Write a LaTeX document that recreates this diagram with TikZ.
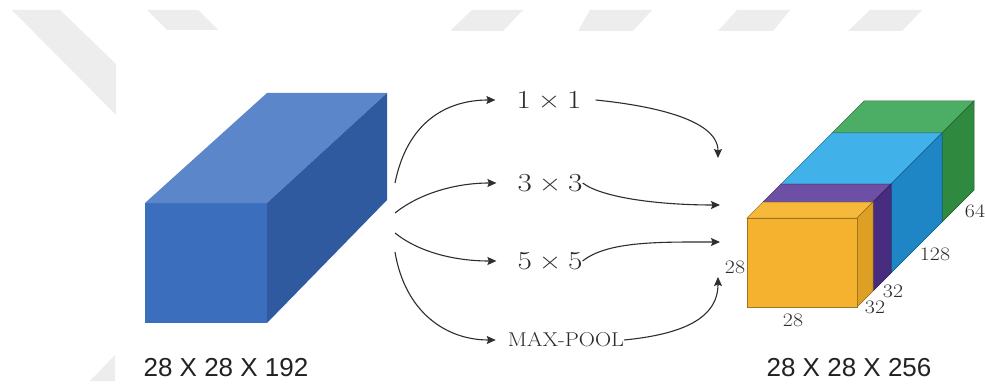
\documentclass[tikz,border=0pt]{standalone}
\usepackage{fontspec}
\usepackage{graphicx}
\newfontfamily\labelsans{Liberation Sans}
\usetikzlibrary{arrows.meta}

% palette
\definecolor{wmgray}{HTML}{EDEDED}
\definecolor{arrowgray}{HTML}{2E2E2E}
\definecolor{labelgray}{HTML}{2A2A2A}
\definecolor{sizegray}{HTML}{222222}
\definecolor{bluefront}{HTML}{3C6EBE}
\definecolor{bluetop}{HTML}{5B86C9}
\definecolor{blueside}{HTML}{2F5A9F}
\definecolor{orangefront}{HTML}{F5B22F}
\definecolor{orangetop}{HTML}{F7B93C}
\definecolor{orangeside}{HTML}{DDA025}
\definecolor{purpletop}{HTML}{6E4FA6}
\definecolor{purpleside}{HTML}{472C7F}
\definecolor{cyantop}{HTML}{41B1E9}
\definecolor{cyanside}{HTML}{1F86C6}
\definecolor{greentop}{HTML}{4BAE64}
\definecolor{greenside}{HTML}{2F8A3F}

% "a x b" kernel size, spaced like a binary operator
\newcommand\kernelsize[2]{\scalebox{1.2}[1]{#1\hspace{0.22em}×\hspace{0.22em}#2}}

\begin{document}
\begin{tikzpicture}[x=1pt,y=-1pt,
  wm/.style={fill=wmgray, draw=none},
  flow/.style={draw=arrowgray, line width=1.1pt,
    -{Stealth[length=9pt,width=8pt,inset=1.5pt]}},
  oplabel/.style={inner sep=0pt, text=labelgray,
    font=\fontsize{26}{28}\selectfont},
  poollabel/.style={inner sep=0pt, text=labelgray,
    font=\fontsize{20}{22}\selectfont},
  dimlabel/.style={inner sep=0pt, text=labelgray,
    font=\fontsize{19}{21}\selectfont},
  sizelabel/.style={inner sep=0pt, text=sizegray,
    font=\labelsans\fontsize{26}{30}\selectfont},
  face/.style={line width=0.5pt}]

% canvas
\fill[white] (0,0) rectangle (985,385);
\useasboundingbox (0,0) rectangle (985,385);

% faint background stripes
\fill[wm] (12,10) -- (60,10) -- (116,64) -- (116,115) -- cycle;
\fill[wm] (147,10) -- (198,10) -- (218,30) -- (167,30) -- cycle;
\fill[wm] (472,10) -- (523,10) -- (503,31) -- (450,31) -- cycle;
\fill[wm] (590,10) -- (652,10) -- (633,31) -- (578,31) -- cycle;
\fill[wm] (737,10) -- (790,10) -- (773,31) -- (718,31) -- cycle;
\fill[wm] (870,10) -- (922,10) -- (902,31) -- (848,31) -- cycle;
\fill[wm] (115,355) -- (115,381) -- (90,381) -- cycle;

% input volume
\fill[bluefront] (145,203) rectangle (267,323);
\fill[bluetop] (145,203) -- (267,203) -- (387,93) -- (267,93) -- cycle;
\fill[blueside] (267,203) -- (387,93) -- (387,200) -- (267,323) -- cycle;

% output volume: stacked channel blocks, back to front
\foreach \da/\db/\tc/\sc in {85/117/greentop/greenside,
                             34/85/cyantop/cyanside,
                             16/34/purpletop/purpleside,
                             0/16/orangetop/orangeside}{
  \filldraw[face, fill=\tc, draw=\tc!65!black]
    ({747+\da},{218-\da}) -- ({857+\da},{218-\da}) --
    ({857+\db},{218-\db}) -- ({747+\db},{218-\db}) -- cycle;
  \filldraw[face, fill=\sc, draw=\sc!65!black]
    ({857+\da},{218-\da}) -- ({857+\db},{218-\db}) --
    ({857+\db},{307-\db}) -- ({857+\da},{307-\da}) -- cycle;
}
\filldraw[face, fill=orangefront, draw=orangefront!65!black]
  (747,218) rectangle (857,307);

% dimension labels
\node[dimlabel] (d28a) at (735,267) {\scalebox{1.15}[1]{28}};
\node[dimlabel] (d28b) at (793,320) {\scalebox{1.15}[1]{28}};
\node[dimlabel] (d32a) at (875,307) {\scalebox{1.15}[1]{32}};
\node[dimlabel] (d32b) at (893,291) {\scalebox{1.15}[1]{32}};
\node[dimlabel] (d128) at (935,254) {\scalebox{1.15}[1]{128}};
\node[dimlabel] (d64)  at (975,211) {\scalebox{1.15}[1]{64}};

% size captions
\node[sizelabel] (insize)  at (226,368) {28 X 28 X 192};
\node[sizelabel] (outsize) at (849,368) {28 X 28 X 256};

% operation labels
\node[oplabel] (op1) at (549,100) {\kernelsize{1}{1}};
\node[oplabel] (op3) at (550,183) {\kernelsize{3}{3}};
\node[oplabel] (op5) at (550,261) {\kernelsize{5}{5}};
\node[poollabel] (pool) at (566,340) {\scalebox{1.12}[1]{MAX-POOL}};

% branch origins on the input volume and merge points at the output
\coordinate (src1) at (395,183);
\coordinate (src3) at (395,213);
\coordinate (src5) at (395,233);
\coordinate (srcp) at (395,252);
\coordinate (dst1) at (718,158);
\coordinate (dst3) at (720,205);
\coordinate (dst5) at (720,242);
\coordinate (dstp) at (718,277);

% fan-out
\draw[flow] (src1) .. controls +(12,-60) and +(-50,0) .. ([xshift=-21pt]op1.west);
\draw[flow] (src3) .. controls +(25,-20) and +(-40,0) .. ([xshift=-21pt]op3.west);
\draw[flow] (src5) .. controls +(25,20) and +(-40,0) .. ([xshift=-21pt]op5.west);
\draw[flow] (srcp) .. controls +(10,60) and +(-50,0) .. ([xshift=-12pt]pool.west);

% fan-in
\draw[flow] ([xshift=14pt]op1.east) .. controls +(50,5) and +(0,-40) .. (dst1);
\draw[flow] (op3.east) .. controls +(20,15) and +(-60,0) .. (dst3);
\draw[flow] (op5.east) .. controls +(25,-20) and +(-60,0) .. (dst5);
\draw[flow] (pool.east) .. controls +(50,-5) and +(0,45) .. (dstp);
\end{tikzpicture}
\end{document}
